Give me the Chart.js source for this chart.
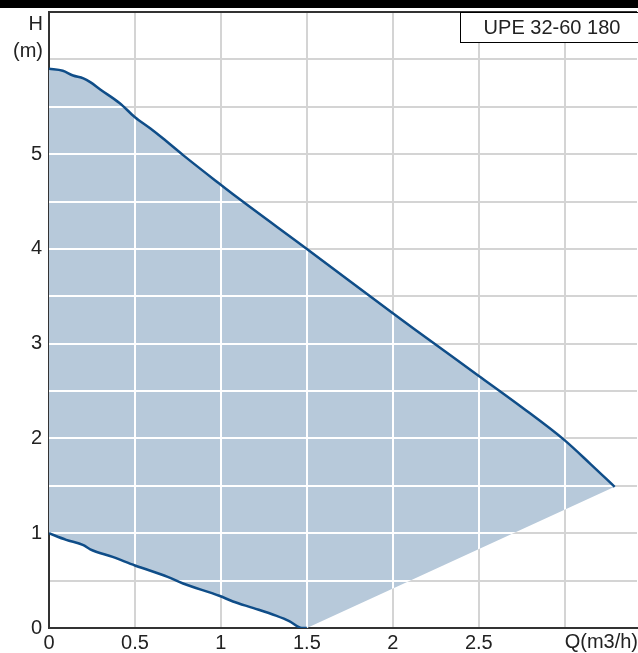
<!DOCTYPE html>
<html>
<head>
<meta charset="utf-8">
<script src="https://cdn.jsdelivr.net/npm/chart.js@4/dist/chart.umd.min.js"></script>
<style>
  html, body { margin: 0; padding: 0; background: #fff; }
  #wrap { position: relative; width: 638px; height: 653px; }
  #topbar { position: absolute; left: 0; top: 0; width: 638px; height: 8px; background: #000; }
</style>
</head>
<body>
<div id="wrap">
  <canvas id="c" width="638" height="653"></canvas>
  <div id="topbar"></div>
</div>
<script>
// ---- data ----
const chartTitle = 'UPE 32-60 180';
const xAxisLabel = 'Q(m3/h)';
const yAxisLabelLines = ['H', '(m)'];
const xTickLabels = ['0', '0.5', '1', '1.5', '2', '2.5'];
const yTickLabels = ['0', '1', '2', '3', '4', '5'];

// maximum curve
const upperQ = [0, 0.08, 0.14, 0.20, 0.24, 0.30, 0.41, 0.50, 0.59, 0.66, 0.78, 0.99, 1.09, 1.50, 2.00, 2.12, 2.50, 2.75, 3.00, 3.15, 3.29];
const upperH = [5.90, 5.88, 5.83, 5.80, 5.76, 5.68, 5.54, 5.39, 5.27, 5.17, 4.99, 4.69, 4.55, 4.00, 3.32, 3.16, 2.66, 2.33, 1.98, 1.73, 1.49];
// minimum curve
const lowerQ = [0, 0.10, 0.20, 0.24, 0.37, 0.50, 0.69, 0.78, 0.99, 1.07, 1.19, 1.32, 1.40, 1.47, 1.50];
const lowerH = [1.00, 0.93, 0.875, 0.83, 0.75, 0.66, 0.54, 0.47, 0.34, 0.28, 0.21, 0.13, 0.07, 0.00, 0.00];

const toPts = (xs, ys) => xs.map((x, i) => ({x: x, y: ys[i]}));
const upperPts = toPts(upperQ, upperH);
const lowerPts = toPts(lowerQ, lowerH);
const areaPts = upperPts.concat(lowerPts.slice().reverse());

const FONT = {family: "'Liberation Sans', Arial, sans-serif", size: 20};
const TEXT = '#222';
const GRID = '#d4d4d4';
const AXIS = '#333';
const LINE = '#0f4d88';

const isHalf = v => Math.abs(v * 2 - Math.round(v * 2)) < 1e-6;

const overlay = {
  id: 'overlay',
  afterDatasetDraw(chart, args) {
    if (args.index !== 2) return;
    const pts = chart.getDatasetMeta(2).data;
    const ctx = chart.ctx;
    const xs = chart.scales.x, ys = chart.scales.y;
    const a = chart.chartArea;
    ctx.save();
    ctx.beginPath();
    pts.forEach((p, i) => i ? ctx.lineTo(p.x, p.y) : ctx.moveTo(p.x, p.y));
    ctx.closePath();
    ctx.clip();
    ctx.strokeStyle = '#ffffff';
    ctx.lineWidth = 2;
    ctx.beginPath();
    xs.ticks.forEach(t => {
      if (t.value <= 0) return;
      const px = Math.round(xs.getPixelForValue(t.value));
      ctx.moveTo(px, a.top); ctx.lineTo(px, a.bottom);
    });
    ys.ticks.forEach(t => {
      if (t.value <= 0) return;
      const py = Math.round(ys.getPixelForValue(t.value));
      ctx.moveTo(a.left, py); ctx.lineTo(a.right, py);
    });
    ctx.stroke();
    ctx.restore();
  },
  afterDraw(chart) {
    const ctx = chart.ctx;
    const a = chart.chartArea;
    ctx.save();
    ctx.font = FONT.size + 'px ' + FONT.family;
    ctx.fillStyle = TEXT;
    ctx.textAlign = 'right';
    ctx.textBaseline = 'middle';
    ctx.fillText(yAxisLabelLines[0], a.left - 6, 24);
    ctx.fillText(yAxisLabelLines[1], a.left - 6, 51);
    ctx.textAlign = 'right';
    ctx.textBaseline = 'top';
    ctx.fillText(xAxisLabel, 638, a.bottom + 4);
    ctx.fillStyle = '#fff';
    ctx.fillRect(460, 12, 180, 31);
    ctx.strokeStyle = '#000';
    ctx.lineWidth = 1;
    ctx.strokeRect(460.5, 12.5, 180, 30);
    ctx.fillStyle = TEXT;
    ctx.textAlign = 'center';
    ctx.textBaseline = 'middle';
    ctx.fillText(chartTitle, 552, 28);
    ctx.restore();
  }
};

new Chart(document.getElementById('c'), {
  type: 'scatter',
  data: {
    datasets: [
      {data: upperPts, showLine: true, borderColor: LINE, borderWidth: 2.5, pointRadius: 0, fill: false, cubicInterpolationMode: 'monotone'},
      {data: lowerPts, showLine: true, borderColor: LINE, borderWidth: 2.5, pointRadius: 0, fill: false, cubicInterpolationMode: 'monotone'},
      {data: areaPts, showLine: true, borderWidth: 0, borderColor: 'rgba(0,0,0,0)', backgroundColor: '#b7c9da', pointRadius: 0, fill: 'shape', tension: 0}
    ]
  },
  options: {
    responsive: false,
    animation: false,
    layout: {padding: {top: 12, right: 1, left: 0, bottom: 0}},
    plugins: {legend: {display: false}, tooltip: {enabled: false}, title: {display: false}},
    scales: {
      x: {
        type: 'linear', min: 0, max: 3.42,
        afterBuildTicks: s => { s.ticks = s.ticks.filter(t => isHalf(t.value)); },
        afterFit: s => { s.height = 25; s.paddingLeft = 0; s.paddingRight = 0; },
        ticks: {
          stepSize: 0.5, padding: 3, color: TEXT, font: FONT, maxRotation: 0, autoSkip: false,
          callback: v => { const i = Math.round(v * 2); return i < xTickLabels.length ? xTickLabels[i] : ''; }
        },
        grid: {color: GRID, lineWidth: 2, drawTicks: false},
        border: {color: AXIS, width: 2}
      },
      y: {
        type: 'linear', min: 0, max: 6.5,
        afterBuildTicks: s => { s.ticks = s.ticks.filter(t => isHalf(t.value)); },
        afterFit: s => { s.width = 49; s.paddingTop = 0; s.paddingBottom = 0; },
        ticks: {
          stepSize: 0.5, padding: 7, color: TEXT, font: FONT, autoSkip: false,
          callback: v => (Number.isInteger(v) && v < yTickLabels.length) ? yTickLabels[v] : ''
        },
        grid: {
          color: c => (c.tick && c.tick.value >= 6.5) ? AXIS : GRID,
          lineWidth: 2, drawTicks: false
        },
        border: {color: AXIS, width: 2}
      }
    }
  },
  plugins: [overlay]
});
</script>
</body>
</html>
